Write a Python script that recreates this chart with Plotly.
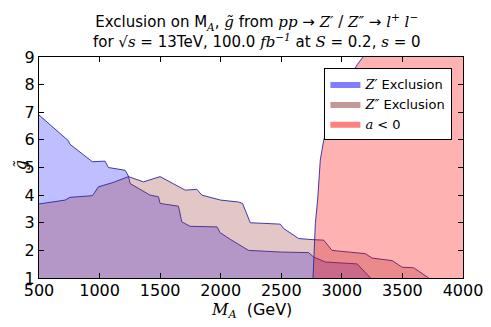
import plotly.graph_objects as go

# Z' exclusion: upper edge of excluded region (M_A in GeV, g-tilde)
zp_mass = [500, 742, 756, 940, 1045, 1073, 1211, 1238, 1252, 1417, 1486, 1500, 1651, 1679,
           1748, 1969, 1996, 2079, 2230, 2492, 2725, 2767, 2864, 3126, 3236]
zp_g = [6.9, 5.97, 5.84, 5.21, 5.23, 5.0, 4.9, 4.69, 4.42, 4.0, 3.94, 3.7, 3.6, 3.03,
        2.87, 2.85, 2.64, 2.4, 2.0, 1.94, 1.92, 1.76, 1.58, 1.51, 1.0]

# Z'' exclusion
zpp_mass = [500, 715, 756, 940, 960, 990, 1114, 1238, 1362, 1500, 1707, 1803, 1844, 2000,
            2147, 2180, 2244, 2492, 2520, 2643, 2754, 2850, 2919, 3194, 3250, 3415, 3497,
            3593, 3717]
zpp_g = [3.68, 3.82, 3.92, 3.98, 4.1, 4.3, 4.46, 4.67, 4.48, 4.67, 4.18, 4.21, 4.0, 3.82,
         3.75, 3.7, 3.0, 2.95, 2.79, 2.43, 2.39, 2.37, 2.0, 1.88, 1.72, 1.63, 1.39,
         1.37, 1.0]

# a < 0 boundary (region to the right)
aneg_mass = [2762, 2767, 2781, 2800, 2822, 2850, 2905, 3015, 3126, 3175]
aneg_g = [1.0, 1.76, 2.97, 3.82, 5.27, 5.99, 6.84, 7.81, 8.72, 9.0]

x_range = [500, 4000]
y_range = [1, 9]
x_ticks = [500, 1000, 1500, 2000, 2500, 3000, 3500, 4000]
y_ticks = [1, 2, 3, 4, 5, 6, 7, 8, 9]

edge = "rgba(40,40,170,0.9)"
serif = "font-family:'DejaVu Serif';font-style:italic"


def m(s):
    return "<span style=\"%s\">%s</span>" % (serif, s)


fig = go.Figure()

fig.add_trace(go.Scatter(x=zp_mass, y=zp_g, mode="lines", fill="tozeroy",
                         fillcolor="rgba(0,0,255,0.25)", line=dict(color=edge, width=1),
                         showlegend=False, hoverinfo="skip"))
fig.add_trace(go.Scatter(x=zpp_mass, y=zpp_g, mode="lines", fill="tozeroy",
                         fillcolor="rgba(150,45,45,0.27)", line=dict(color=edge, width=1),
                         showlegend=False, hoverinfo="skip"))

# red region: boundary closed along the top-right corner of the axes
red_x = aneg_mass + [x_range[1], x_range[1]]
red_y = aneg_g + [y_range[1], y_range[0]]
fig.add_trace(go.Scatter(x=red_x, y=red_y, mode="lines", fill="toself",
                         fillcolor="rgba(255,0,0,0.3)", line=dict(width=0),
                         showlegend=False, hoverinfo="skip"))
fig.add_trace(go.Scatter(x=aneg_mass, y=aneg_g, mode="lines",
                         line=dict(color=edge, width=1), showlegend=False, hoverinfo="skip"))

# legend proxies
legend_items = [
    (m("Z′") + " Exclusion", "rgba(0,0,255,0.5)"),
    (m("Z″") + " Exclusion", "rgba(140,50,50,0.5)"),
    (m("a") + " &lt; 0", "rgba(255,0,0,0.5)"),
]
for name, col in legend_items:
    fig.add_trace(go.Scatter(x=[None], y=[None], mode="lines", fill="toself",
                             fillcolor=col, line=dict(width=0, color=col), name=name))

title = ("Exclusion on M<sub>" + m("A") + "</sub>, " + m("g̃") + " from "
         + m("pp") + " → " + m("Z′") + " / " + m("Z″") + " → " + m("l<sup>+</sup> l<sup>−</sup>")
         + "<br>for √" + m("s") + " = 13TeV, 100.0 " + m("fb<sup>−1</sup>") + " at "
         + m("S") + " = 0.2, " + m("s") + " = 0")

# the page adds an 8px body margin, so the figure is sized 8px smaller
fig.update_layout(
    width=483, height=319,
    margin=dict(l=31, r=28, t=49, b=49, autoexpand=False),
    paper_bgcolor="white", plot_bgcolor="white",
    font=dict(family="DejaVu Sans", size=16, color="black"),
    title=dict(text=title, x=0.515, xanchor="center", yref="container", y=0.939,
               yanchor="middle", font=dict(size=15), automargin=False),
    showlegend=True,
    legend=dict(x=0.975, xanchor="right", y=0.95, yanchor="top",
                bordercolor="black", borderwidth=1, bgcolor="white",
                font=dict(size=13), tracegroupgap=0, itemwidth=30,
                itemsizing="constant"),
    xaxis=dict(range=x_range, tickvals=x_ticks, ticks="inside", ticklen=5,
               tickcolor="black", showline=True, linecolor="black", linewidth=1,
               mirror="allticks", showgrid=False, zeroline=False, automargin=False,
               ticklabelstandoff=-2),
    yaxis=dict(range=y_range, tickvals=y_ticks, ticks="inside", ticklen=5,
               tickcolor="black", showline=True, linecolor="black", linewidth=1,
               mirror="allticks", showgrid=False, zeroline=False, automargin=False),
    annotations=[
        dict(text=m("M<sub>A</sub>") + "  (GeV)", xref="paper", yref="paper",
             x=0.5, y=-0.148, xanchor="center", yanchor="middle",
             showarrow=False, font=dict(size=16)),
        dict(text=m("g̃"), xref="paper", yref="paper", x=-0.045, y=0.51,
             xanchor="center", yanchor="middle", textangle=-90,
             showarrow=False, font=dict(size=16)),
    ],
)

fig.write_html("out.html")
